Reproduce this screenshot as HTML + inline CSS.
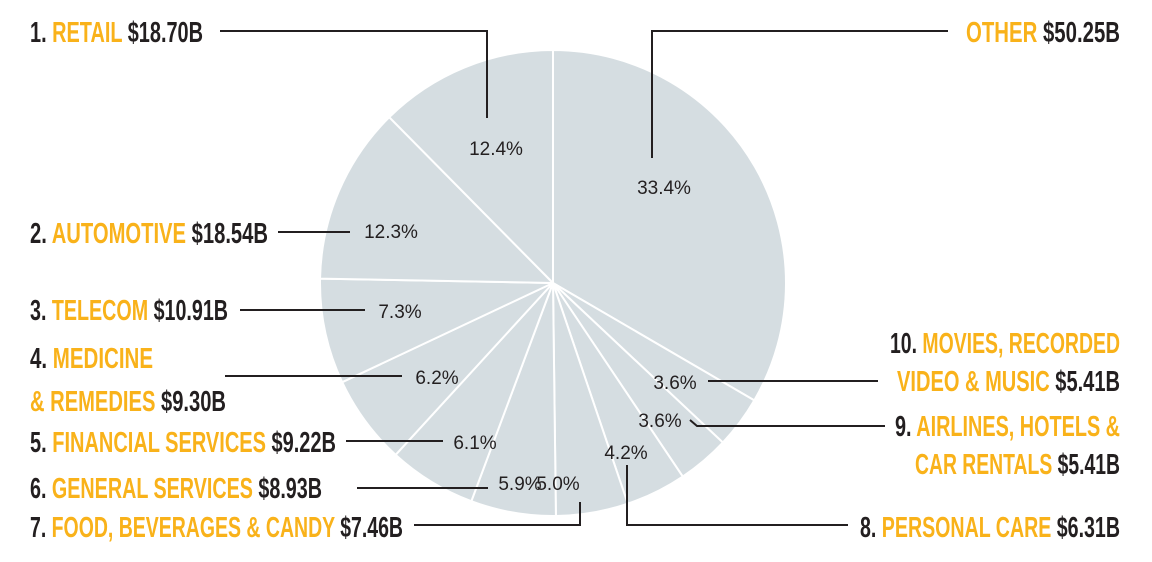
<!DOCTYPE html>
<html><head><meta charset="utf-8"><style>
html,body{margin:0;padding:0;background:#fff;}
svg{display:block}
.lab{font-family:"Liberation Sans Narrow","Liberation Sans",sans-serif;font-weight:bold;font-size:29px;fill:#231f20}
.o{fill:#f9b21a}
.pct{font-family:"Liberation Sans",sans-serif;font-size:19px;fill:#231f20;text-anchor:middle}
.ld{stroke:#231f20;stroke-width:2;fill:none}
</style></head><body>
<svg id="chart" width="1152" height="562" viewBox="0 0 1152 562">
<g id="slices"></g>
<g id="pcts"></g>
<g>
<polyline class="ld" points="220,31 487,31 487,118"/>
<polyline class="ld" points="948,31 652,31 652,158"/>
<polyline class="ld" points="278,232 350,232"/>
<polyline class="ld" points="240,310 365,310"/>
<polyline class="ld" points="225,376 402,376"/>
<polyline class="ld" points="346,441 443,441"/>
<polyline class="ld" points="357,488 488,488"/>
<polyline class="ld" points="414,525 580,525 580,502"/>
<polyline class="ld" points="848,525 627,525 627,465"/>
<polyline class="ld" points="885,426 697,426 690,420"/>
<polyline class="ld" points="878,381 708,381"/>
</g>
<g>
<text class="lab" x="30" y="42" textLength="173" lengthAdjust="spacingAndGlyphs">1. <tspan class="o">RETAIL</tspan> $18.70B</text>
<text class="lab" x="966" y="42" textLength="154" lengthAdjust="spacingAndGlyphs"><tspan class="o">OTHER</tspan> $50.25B</text>
<text class="lab" x="30" y="243" textLength="238" lengthAdjust="spacingAndGlyphs">2. <tspan class="o">AUTOMOTIVE</tspan> $18.54B</text>
<text class="lab" x="30" y="320" textLength="198" lengthAdjust="spacingAndGlyphs">3. <tspan class="o">TELECOM</tspan> $10.91B</text>
<text class="lab" x="30" y="368" textLength="123" lengthAdjust="spacingAndGlyphs">4. <tspan class="o">MEDICINE</tspan></text>
<text class="lab" x="30" y="411" textLength="196" lengthAdjust="spacingAndGlyphs"><tspan class="o">&amp; REMEDIES</tspan> $9.30B</text>
<text class="lab" x="30" y="452" textLength="306" lengthAdjust="spacingAndGlyphs">5. <tspan class="o">FINANCIAL SERVICES</tspan> $9.22B</text>
<text class="lab" x="30" y="498" textLength="292" lengthAdjust="spacingAndGlyphs">6. <tspan class="o">GENERAL SERVICES</tspan> $8.93B</text>
<text class="lab" x="30" y="537" textLength="373" lengthAdjust="spacingAndGlyphs">7. <tspan class="o">FOOD, BEVERAGES &amp; CANDY</tspan> $7.46B</text>
<text class="lab" x="860" y="537" textLength="260" lengthAdjust="spacingAndGlyphs">8. <tspan class="o">PERSONAL CARE</tspan> $6.31B</text>
<text class="lab" x="895" y="436" textLength="225" lengthAdjust="spacingAndGlyphs">9. <tspan class="o">AIRLINES, HOTELS &amp;</tspan></text>
<text class="lab" x="915" y="474" textLength="205" lengthAdjust="spacingAndGlyphs"><tspan class="o">CAR RENTALS</tspan> $5.41B</text>
<text class="lab" x="890" y="353" textLength="230" lengthAdjust="spacingAndGlyphs">10. <tspan class="o">MOVIES, RECORDED</tspan></text>
<text class="lab" x="897" y="391" textLength="223" lengthAdjust="spacingAndGlyphs"><tspan class="o">VIDEO &amp; MUSIC</tspan> $5.41B</text>
</g>
</svg>
<script>
const categories = ["Other","Movies, Recorded Video & Music","Airlines, Hotels & Car Rentals","Personal Care","Food, Beverages & Candy","General Services","Financial Services","Medicine & Remedies","Telecom","Automotive","Retail"];
const shares = [33.4,3.6,3.6,4.2,5.0,5.9,6.1,6.2,7.3,12.3,12.4];
const pctLabels = ["33.4%","3.6%","3.6%","4.2%","5.0%","5.9%","6.1%","6.2%","7.3%","12.3%","12.4%"];
const labelAnchors = [[664,194],[675,389],[660,427],[626,459],[558,490],[520,490],[475,449],[437,384],[400,318],[391,238],[496,155]];
const cx=553, cy=283, r=233;
const NS="http://www.w3.org/2000/svg";
const total = shares.reduce((a,b)=>a+b,0);
const gS=document.getElementById('slices'), gP=document.getElementById('pcts');
function pt(frac){const a=frac*2*Math.PI-Math.PI/2;return [cx+r*Math.cos(a),cy+r*Math.sin(a)];}
let acc=0;
shares.forEach((v,i)=>{
  const f0=acc/total, f1=(acc+v)/total; acc+=v;
  const p0=pt(f0), p1=pt(f1), large=(f1-f0)>0.5?1:0;
  const p=document.createElementNS(NS,'path');
  p.setAttribute('d',`M${cx},${cy}L${p0[0]},${p0[1]}A${r},${r} 0 ${large} 1 ${p1[0]},${p1[1]}Z`);
  p.setAttribute('fill','#d5dde1');p.setAttribute('stroke','#fff');p.setAttribute('stroke-width','2');
  
  
  gS.appendChild(p);
  const t=document.createElementNS(NS,'text');
  t.setAttribute('class','pct');t.setAttribute('x',labelAnchors[i][0]);t.setAttribute('y',labelAnchors[i][1]);
  t.textContent=pctLabels[i];
  
  
  gP.appendChild(t);
});
</script>
</body></html>
